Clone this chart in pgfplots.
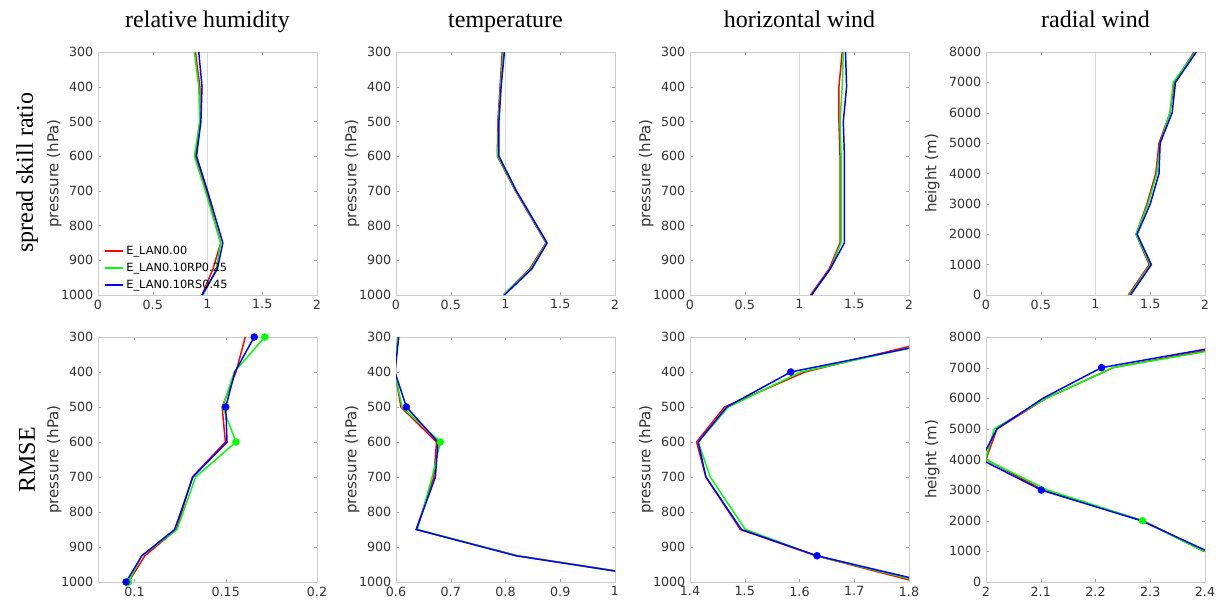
\documentclass[border=0pt]{standalone}
\usepackage{pgfplots}
\pgfplotsset{compat=1.18}
\usepackage{fontspec}
\setmainfont{DejaVu Sans}
\newfontfamily\serif{Liberation Serif}

\pgfplotsset{
  panel/.style={
    scale only axis, width=164.25pt,
    axis line style={black!20}, tick style={black!35},
    major tick length=2.5pt, tick align=inside,
    ticklabel style={font=\fontsize{9.5}{10}\selectfont, text=black!80},
    label style={font=\fontsize{11.25}{12}\selectfont, text=black!80},
    /pgf/number format/assume math mode=true,
    /pgf/number format/1000 sep={},
    scaled ticks=false, clip=true,
    title style={font=\serif\fontsize{18}{20}\selectfont, text=black, at={(0.5,1)}, anchor=base, yshift=12.75pt},
  },
  top/.style={panel, height=182.25pt, at={(#1,228.75pt)}, anchor=south west,
    xmin=0, xmax=2, xtick={0,0.5,1,1.5,2}},
  bot/.style={panel, height=183.75pt, at={(#1,13.5pt)}, anchor=south west},
  pres/.style={ymin=300, ymax=1000, y dir=reverse, ytick={300,400,...,1000}, ylabel={pressure (hPa)},
    ylabel style={at={(axis description cs:-0.2,0.5)}, anchor=center}},
  hgt/.style={ymin=0, ymax=8000, ytick={0,1000,...,8000}, ylabel={height (m)},
    ylabel style={at={(axis description cs:-0.246,0.5)}, anchor=center}},
  ln/.style={#1, line width=1.1pt},
  dot/.style={#1, only marks, mark=*, mark size=2.6pt, forget plot},
  ref/.style={black!15, line width=0.6pt, forget plot},
}

\begin{document}
\begin{tikzpicture}
\useasboundingbox (0,0) rectangle (914.25pt,450pt);

\node[font=\serif\fontsize{18}{20}\selectfont, rotate=90] at (20.25pt,320.25pt) {spread skill ratio};
\node[font=\serif\fontsize{18}{20}\selectfont, rotate=90] at (20.25pt,105pt) {RMSE};

% ---- spread skill ratio
\begin{axis}[top=73.5pt, pres, title={relative humidity},
  legend style={fill=none, draw opacity=0, at={(0.02,0.0)}, anchor=south west,
    font=\fontsize{8.5}{9}\selectfont, row sep=1pt, inner sep=1pt},
  legend cell align=left,
  legend image code/.code={\draw[#1, draw opacity=1, line width=1.3pt] (0pt,0.5pt) -- (13.5pt,0.5pt);}]
\addplot[ref] coordinates {(1,300) (1,1000)};
\addplot[red, line width=1.1pt] coordinates {(0.89,300) (0.93,400) (0.93,500) (0.89,600) (0.99,700) (1.12,850) (1.05,925) (0.95,1000)};
\addplot[green, line width=1.1pt] coordinates {(0.88,300) (0.92,400) (0.93,500) (0.88,600) (0.98,700) (1.12,850) (1.08,925) (0.96,1000)};
\addplot[blue, line width=1.1pt] coordinates {(0.92,300) (0.95,400) (0.94,500) (0.90,600) (1.00,700) (1.14,850) (1.09,925) (0.95,1000)};
\legend{E\_LAN0.00, E\_LAN0.10RP0.25, E\_LAN0.10RS0.45}
\end{axis}

\begin{axis}[top=297pt, pres, title={temperature}]
\addplot[ref] coordinates {(1,300) (1,1000)};
\addplot[ln=red] coordinates {(0.97,300) (0.95,400) (0.93,500) (0.925,600) (1.09,700) (1.37,850) (1.22,925) (0.98,1000)};
\addplot[ln=green] coordinates {(0.98,300) (0.955,400) (0.935,500) (0.93,600) (1.095,700) (1.375,850) (1.23,925) (0.98,1000)};
\addplot[ln=blue] coordinates {(0.99,300) (0.96,400) (0.94,500) (0.94,600) (1.10,700) (1.38,850) (1.24,925) (0.99,1000)};
\end{axis}

\begin{axis}[top=517.5pt, pres, title={horizontal wind}]
\addplot[ref] coordinates {(1,300) (1,1000)};
\addplot[ln=red] coordinates {(1.39,300) (1.36,400) (1.36,500) (1.37,600) (1.37,700) (1.37,850) (1.27,925) (1.10,1000)};
\addplot[ln=green] coordinates {(1.40,300) (1.39,400) (1.37,500) (1.38,600) (1.38,700) (1.38,850) (1.28,925) (1.11,1000)};
\addplot[ln=blue] coordinates {(1.42,300) (1.43,400) (1.40,500) (1.41,600) (1.41,700) (1.41,850) (1.28,925) (1.11,1000)};
\end{axis}

\begin{axis}[top=739.5pt, hgt, title={radial wind}]
\addplot[ref] coordinates {(1,0) (1,8000)};
\addplot[ln=red] coordinates {(1.30,0) (1.49,1000) (1.37,2000) (1.47,3000) (1.55,4000) (1.58,5000) (1.68,6000) (1.72,7000) (1.90,8000)};
\addplot[ln=green] coordinates {(1.31,0) (1.50,1000) (1.37,2000) (1.48,3000) (1.56,4000) (1.59,5000) (1.68,6000) (1.71,7000) (1.91,8000)};
\addplot[ln=blue] coordinates {(1.32,0) (1.51,1000) (1.38,2000) (1.50,3000) (1.58,4000) (1.59,5000) (1.70,6000) (1.73,7000) (1.92,8000)};
\end{axis}

% ---- RMSE
\begin{axis}[bot=73.5pt, pres, xmin=0.08, xmax=0.2, xtick={0.1,0.15,0.2}]
\addplot[ln=red] coordinates {(0.1607,300) (0.1556,400) (0.148,500) (0.1498,600) (0.1317,700) (0.123,850) (0.1057,925) (0.0967,1000)};
\addplot[ln=green] coordinates {(0.1714,300) (0.1547,400) (0.1483,500) (0.1556,600) (0.1335,700) (0.1233,850) (0.1039,925) (0.0967,1000)};
\addplot[ln=blue] coordinates {(0.1656,300) (0.155,400) (0.150,500) (0.1507,600) (0.132,700) (0.122,850) (0.104,925) (0.0954,1000)};
\addplot[dot=green] coordinates {(0.1714,300) (0.1556,600) (0.0967,1000)};
\addplot[dot=blue] coordinates {(0.1656,300) (0.150,500) (0.0954,1000)};
\end{axis}

\begin{axis}[bot=297pt, pres, xmin=0.6, xmax=1, xtick={0.6,0.7,0.8,0.9,1}]
\addplot[ln=red] coordinates {(0.6037,300) (0.598,400) (0.609,500) (0.674,600) (0.669,700) (0.637,850) (0.822,925) (1.132,1000)};
\addplot[ln=green] coordinates {(0.6037,300) (0.598,400) (0.611,500) (0.681,600) (0.666,700) (0.639,850) (0.821,925) (1.13,1000)};
\addplot[ln=blue] coordinates {(0.605,300) (0.598,400) (0.619,500) (0.6766,600) (0.672,700) (0.637,850) (0.819,925) (1.13,1000)};
\addplot[dot=blue] coordinates {(0.619,500)};
\addplot[dot=green] coordinates {(0.681,600)};
\end{axis}

\begin{axis}[bot=517.5pt, pres, xmin=1.4, xmax=1.8, xtick={1.4,1.5,1.6,1.7,1.8}]
\addplot[ln=red] coordinates {(1.87,300) (1.61,400) (1.463,500) (1.412,600) (1.429,700) (1.492,850) (1.63,925) (1.815,1000)};
\addplot[ln=green] coordinates {(1.893,300) (1.602,400) (1.470,500) (1.415,600) (1.437,700) (1.501,850) (1.631,925) (1.826,1000)};
\addplot[ln=blue] coordinates {(1.902,300) (1.584,400) (1.467,500) (1.415,600) (1.429,700) (1.494,850) (1.632,925) (1.835,1000)};
\addplot[dot=blue] coordinates {(1.584,400) (1.632,925)};
\end{axis}

\begin{axis}[bot=739.5pt, hgt, xmin=2, xmax=2.4, xtick={2,2.1,2.2,2.3,2.4}]
\addplot[ln=red] coordinates {(2.398,1000) (2.287,2000) (2.104,3000) (2.0,4000) (2.020,5000) (2.110,6000) (2.232,7000) (2.534,8000)};
\addplot[ln=green] coordinates {(2.398,1000) (2.286,2000) (2.113,3000) (1.999,4000) (2.015,5000) (2.110,6000) (2.232,7000) (2.554,8000)};
\addplot[ln=blue] coordinates {(2.405,1000) (2.284,2000) (2.101,3000) (1.991,4000) (2.020,5000) (2.104,6000) (2.211,7000) (2.526,8000)};
\addplot[dot=blue] coordinates {(2.211,7000) (2.101,3000)};
\addplot[dot=green] coordinates {(2.286,2000)};
\end{axis}
\end{tikzpicture}
\end{document}
